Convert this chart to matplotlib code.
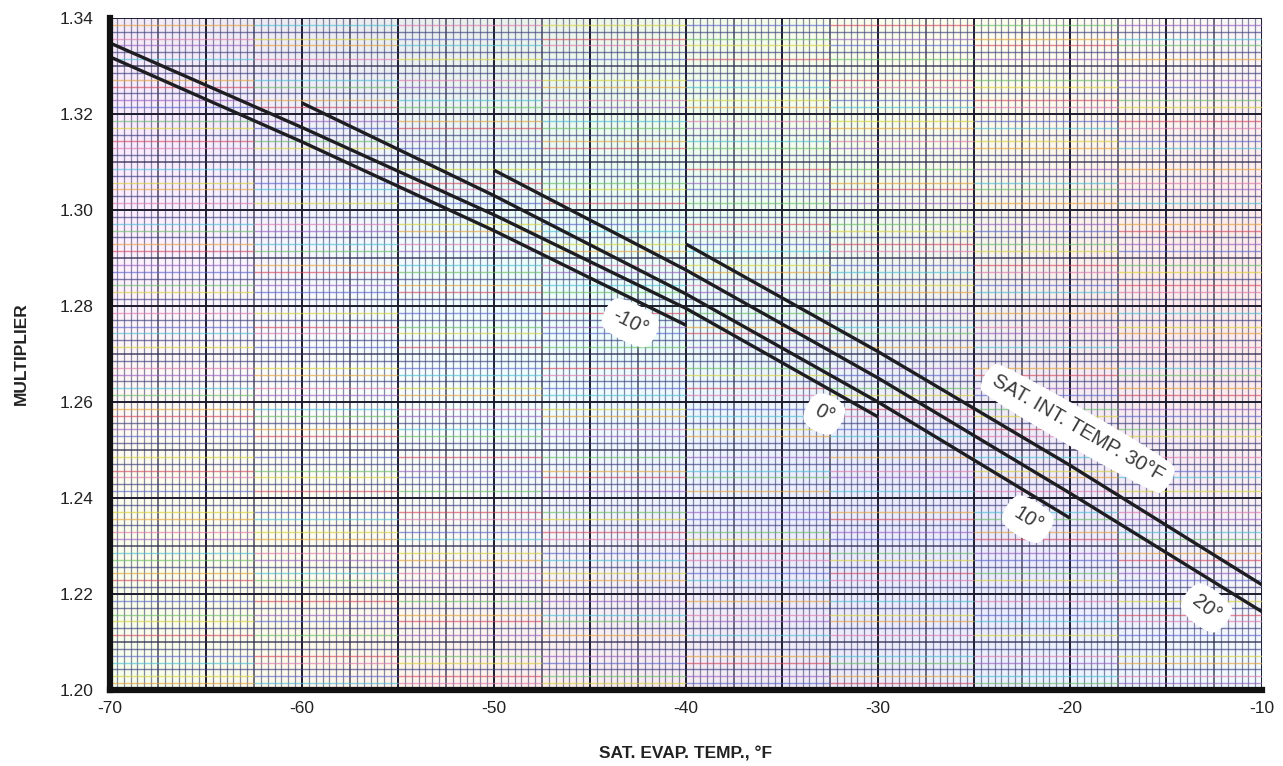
import matplotlib.pyplot as plt
import numpy as np
from matplotlib.collections import LineCollection

plt.rcParams["font.family"] = ["Liberation Sans", "DejaVu Sans"]

# Multiplier curves, one per saturated intermediate temperature (deg F)
evap_m10 = [-70, -60, -50, -40]
mult_m10 = [1.3319, 1.3142, 1.2957, 1.2760]

evap_0 = [-70, -60, -50, -40, -30]
mult_0 = [1.3348, 1.3172, 1.2990, 1.2795, 1.2569]

evap_10 = [-60, -50, -40, -30, -20]
mult_10 = [1.3223, 1.3030, 1.2825, 1.2600, 1.2358]

evap_20 = [-50, -40, -30, -20, -10]
mult_20 = [1.3083, 1.2875, 1.2650, 1.2410, 1.2163]

evap_30 = [-40, -30, -20, -10]
mult_30 = [1.2929, 1.2705, 1.2468, 1.2219]

x_ticks = [-70, -60, -50, -40, -30, -20, -10]
y_ticks = [1.20, 1.22, 1.24, 1.26, 1.28, 1.30, 1.32, 1.34]

curve_labels = [
    ("-10°", -42.9, 1.2765, -27),
    ("0°", -32.8, 1.2575, -28),
    ("10°", -22.2, 1.2356, -32),
    ("20°", -12.9, 1.2171, -38),
    ("SAT. INT. TEMP. 30°F", -19.6, 1.2545, -30),
]

XMIN, XMAX = -70, -10
YMIN, YMAX = 1.20, 1.34

fig = plt.figure(figsize=(12.83, 7.66), dpi=100)
ax = fig.add_axes([0.0857, 0.0992, 0.898, 0.8773])
ax.set_xlim(XMIN, XMAX)
ax.set_ylim(YMIN, YMAX)

# faint pastel wash behind the graph paper
gx, gy = np.meshgrid(np.linspace(0, 1, 300), np.linspace(0, 1, 200))
wash = np.dstack([
    0.5 + 0.5 * np.sin(6.0 * gx + 3.0 * gy),
    0.5 + 0.5 * np.sin(5.0 * gx - 4.0 * gy + 2.0),
    0.5 + 0.5 * np.sin(4.0 * gx + 5.0 * gy + 4.0),
])
ax.imshow(wash, extent=[XMIN, XMAX, YMIN, YMAX], aspect="auto",
          alpha=0.08, zorder=0, origin="lower")

# graph paper: bold every 5 deg / 0.02, medium every 2.5 deg / 0.01,
# seven fine divisions between
x_minor = np.linspace(XMIN, XMAX, 24 * 7 + 1)
y_minor = np.linspace(YMIN, YMAX, 14 * 7 + 1)

for i, xv in enumerate(x_minor):
    if i % 14 == 0:
        ax.axvline(xv, color="#1c1c2e", lw=1.4, zorder=1)
    elif i % 7 == 0:
        ax.axvline(xv, color="#2a2a44", lw=1.1, alpha=0.85, zorder=1)
    else:
        ax.axvline(xv, color="#40446e", lw=0.9, alpha=0.62, zorder=1)

palette = ["#d9485f", "#e6a33c", "#d8d23a", "#6bbf6a", "#4cc0d8",
           "#5a66d0", "#9a5fc5", "#e07ab0"]
seg_edges = np.arange(XMIN, XMAX + 0.1, 7.5)
segs, seg_colors = [], []
for i, yv in enumerate(y_minor):
    if i % 7 == 0:
        continue
    for j in range(len(seg_edges) - 1):
        segs.append([(seg_edges[j], yv), (seg_edges[j + 1], yv)])
        if i % 3 == 0:
            seg_colors.append("#383c80")
        else:
            seg_colors.append(palette[(i + j * 3) % len(palette)])
ax.add_collection(LineCollection(segs, colors=seg_colors, linewidths=1.0,
                                 alpha=0.65, zorder=1))
for k, yv in enumerate(y_minor[::7]):
    if k % 2 == 0:
        ax.axhline(yv, color="#1c1c2e", lw=1.4, zorder=1)
    else:
        ax.axhline(yv, color="#2a2a50", lw=1.1, alpha=0.85, zorder=1)

# curves
for xs, ys in [(evap_m10, mult_m10), (evap_0, mult_0), (evap_10, mult_10),
               (evap_20, mult_20), (evap_30, mult_30)]:
    ax.plot(xs, ys, color="#1e1e22", lw=2.4, solid_capstyle="butt",
            solid_joinstyle="round", zorder=4)

for text, xv, yv, rot in curve_labels:
    ax.text(xv, yv, text, rotation=rot, rotation_mode="anchor",
            ha="center", va="center", fontsize=14.5, color="#3a3a3a",
            zorder=3,
            bbox=dict(boxstyle="round4,pad=0.55", fc="white", ec="none"))

for side in ["top", "right"]:
    ax.spines[side].set_visible(False)
for side in ["left", "bottom"]:
    ax.spines[side].set_linewidth(4.5)
    ax.spines[side].set_color("#111111")
    ax.spines[side].set_zorder(5)

ax.set_xticks(x_ticks)
ax.set_xticklabels([f"{v:d}" for v in x_ticks])
ax.set_yticks(y_ticks)
ax.set_yticklabels([f"{v:.2f}" for v in y_ticks])
ax.tick_params(length=0, labelsize=12.5, colors="#222222")
ax.tick_params(axis="x", pad=8)
ax.tick_params(axis="y", pad=12)

ax.set_xlabel("SAT. EVAP. TEMP., °F", fontsize=12.5, fontweight="bold",
              color="#222222", labelpad=22)
ax.set_ylabel("MULTIPLIER", fontsize=12.5, fontweight="bold",
              color="#222222", labelpad=22)

fig.savefig("out.png", dpi=100, facecolor="white")
